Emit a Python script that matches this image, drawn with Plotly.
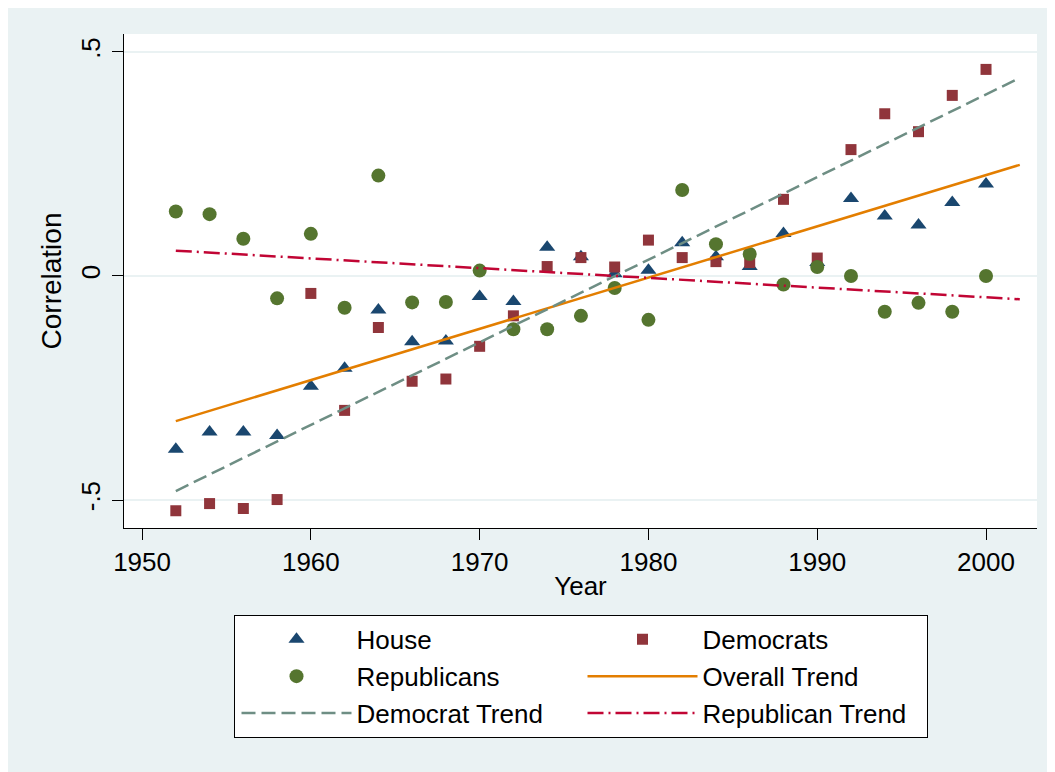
import plotly.graph_objects as go

years = [1952, 1954, 1956, 1958, 1960, 1962, 1964, 1966, 1968, 1970, 1972, 1974, 1976,
         1978, 1980, 1982, 1984, 1986, 1988, 1990, 1992, 1994, 1996, 1998, 2000]

house = [-0.387, -0.348, -0.348, -0.356, -0.246, -0.206, -0.076, -0.147, -0.145, -0.046,
         -0.057, 0.064, 0.043, 0.005, 0.013, 0.074, 0.043, 0.021, 0.095, 0.03,
         0.173, 0.134, 0.114, 0.164, 0.205]

democrats = [-0.524, -0.508, -0.519, -0.499, -0.039, -0.300, -0.115, -0.235, -0.230, -0.157,
             -0.089, 0.021, 0.041, 0.020, 0.080, 0.041, 0.032, 0.030, 0.171, 0.040,
             0.282, 0.362, 0.322, 0.403, 0.461]

republicans = [0.144, 0.138, 0.083, -0.050, 0.094, -0.071, 0.224, -0.059, -0.058, 0.012,
               -0.119, -0.119, -0.089, -0.027, -0.098, 0.192, 0.071, 0.049, -0.019, 0.020,
               0.000, -0.080, -0.060, -0.080, 0.000]

trend_years = [1952, 2002]
overall_trend = [-0.324, 0.248]
democrat_trend = [-0.480, 0.442]
republican_trend = [0.0565, -0.052]

x_ticks = [1950, 1960, 1970, 1980, 1990, 2000]
y_ticks = [-0.5, 0, 0.5]
y_tick_labels = ["-.5", "0", ".5"]

FONT = "Liberation Sans, Arial, sans-serif"
BG = "#eaf2f3"

fig = go.Figure()
fig.add_trace(go.Scatter(x=years, y=house, mode="markers", name="House",
                         marker=dict(symbol="triangle-up", size=14, color="#1a476f")))
fig.add_trace(go.Scatter(x=years, y=democrats, mode="markers", name="Democrats",
                         marker=dict(symbol="square", size=11, color="#90353b")))
fig.add_trace(go.Scatter(x=years, y=republicans, mode="markers", name="Republicans",
                         marker=dict(symbol="circle", size=14, color="#55752f")))
fig.add_trace(go.Scatter(x=trend_years, y=overall_trend, mode="lines", name="Overall Trend",
                         line=dict(color="#e37e00", width=2.5)))
fig.add_trace(go.Scatter(x=trend_years, y=democrat_trend, mode="lines", name="Democrat Trend",
                         line=dict(color="#6e8e84", width=2.5, dash="14px,6px")))
fig.add_trace(go.Scatter(x=trend_years, y=republican_trend, mode="lines", name="Republican Trend",
                         line=dict(color="#c10534", width=2.5, dash="16px,5px,2px,5px")))

# figure extends slightly past the window edge, as in the reference
fig.update_layout(
    width=1062, height=780,
    margin=dict(l=116, r=33, t=26, b=260),
    paper_bgcolor=BG, plot_bgcolor="white",
    font=dict(family=FONT, size=26, color="black"),
    legend=dict(orientation="h", x=0.5, xanchor="center", y=-0.176, yanchor="top",
                entrywidth=219, entrywidthmode="pixels", itemwidth=110, indentation=2,
                bgcolor="white", bordercolor="black", borderwidth=1,
                font=dict(family=FONT, size=26, color="black")),
    showlegend=True,
)
fig.update_xaxes(range=[1948.93, 2003.02], tickvals=x_ticks, ticks="outside", ticklen=11,
                 tickcolor="black", showline=True, linecolor="black", linewidth=1,
                 showgrid=False, zeroline=False,
                 title=dict(text="Year", standoff=0, font=dict(size=26)))
fig.update_yaxes(range=[-0.5625, 0.540], tickvals=y_ticks, ticktext=y_tick_labels,
                 tickangle=-90, ticks="outside", ticklen=11, tickcolor="black",
                 ticklabelstandoff=2,
                 showline=True, linecolor="black", linewidth=1,
                 showgrid=True, gridcolor=BG, gridwidth=2, zeroline=False,
                 title=dict(text="Correlation", standoff=5, font=dict(size=28)))

fig.write_html(
    "out.html",
    post_script="document.documentElement.style.overflow='hidden';"
                "document.body.style.overflow='hidden';",
)
